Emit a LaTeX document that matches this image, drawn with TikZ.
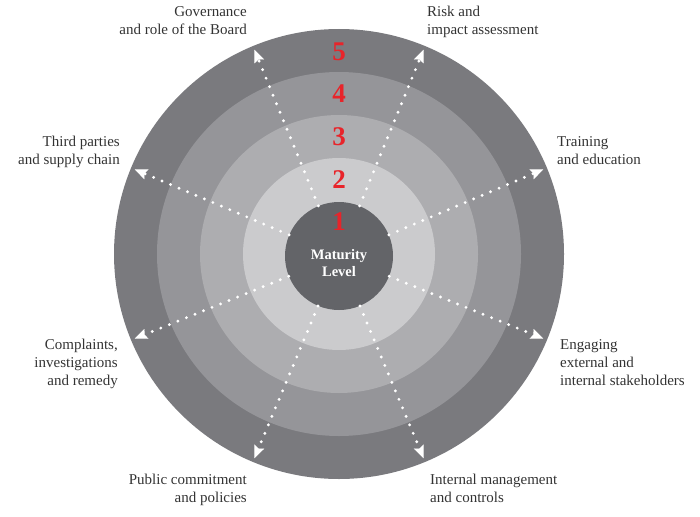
\documentclass[tikz,border=0pt]{standalone}
\usepackage{fontspec}
\setmainfont{Liberation Serif}
\usetikzlibrary{arrows.meta}
\definecolor{ringfive}{HTML}{7A7A7E}
\definecolor{ringfour}{HTML}{959599}
\definecolor{ringthree}{HTML}{ADADB0}
\definecolor{ringtwo}{HTML}{CBCBCD}
\definecolor{coredark}{HTML}{636468}
\definecolor{numred}{HTML}{E8242A}
\definecolor{labeltext}{HTML}{333333}
\begin{document}
\begin{tikzpicture}[x=1pt,y=-1pt,
  spoke/.style={draw=white,line width=3.2pt,line cap=round,dash pattern=on 0pt off 9.2pt,
    -{Stealth[length=12.5pt,width=10.5pt,inset=2pt,line width=0.01pt]}},
  levelnum/.style={text=numred,font=\fontsize{27}{27}\selectfont\bfseries,inner sep=0pt},
  lbl/.style={text=labeltext,font=\fontsize{15}{18}\selectfont,inner sep=0pt},
  lblr/.style={lbl,align=right},
  lbll/.style={lbl,align=left}]
\useasboundingbox (0,0) rectangle (700,516);
\coordinate (O) at (339,254);
% rings
\fill[ringfive] (O) circle (225pt);
\fill[ringfour] (O) circle (182pt);
\fill[ringthree] (O) circle (139pt);
\fill[ringtwo] (O) circle (96pt);
% core
\node[circle,fill=coredark,minimum size=108pt,inner sep=0pt] (core) at (339,256) {};
% spoke tips
\foreach \a [count=\i] in {112.5,67.5,157.5,22.5,202.5,337.5,247.5,292.5}{
  \coordinate (t\i) at ([shift={(\a:221pt)}]O);
}
\foreach \i in {1,...,8}{
  \draw[spoke] (core) -- (t\i);
}
% level numbers
\node[levelnum] (n5) at (339,52) {5};
\node[levelnum] (n4) at (339,94) {4};
\node[levelnum] (n3) at (339,137) {3};
\node[levelnum] (n2) at (339,180) {2};
\node[levelnum] (n1) at (339,222) {1};
\node[text=white,font=\fontsize{14.5}{17}\selectfont\bfseries,align=center,inner sep=0pt] (ml) at (339,263) {Maturity\\Level};
% labels
\node[lblr,anchor=north east] (gov) at (247,6) {Governance\\and role of the Board};
\node[lbll,anchor=north west] (risk) at (427,6) {Risk and\\impact assessment};
\node[lblr,anchor=north east] (third) at (120,136) {Third parties\\and supply chain};
\node[lbll,anchor=north west] (train) at (557,136) {Training\\and education};
\node[lblr,anchor=north east] (comp) at (118,339) {Complaints,\\investigations\\and remedy};
\node[lbll,anchor=north west] (eng) at (560,339) {Engaging\\external and\\internal stakeholders};
\node[lblr,anchor=north east] (pub) at (247,474) {Public commitment\\and policies};
\node[lbll,anchor=north west] (intm) at (430,474) {Internal management\\and controls};
\end{tikzpicture}
\end{document}
